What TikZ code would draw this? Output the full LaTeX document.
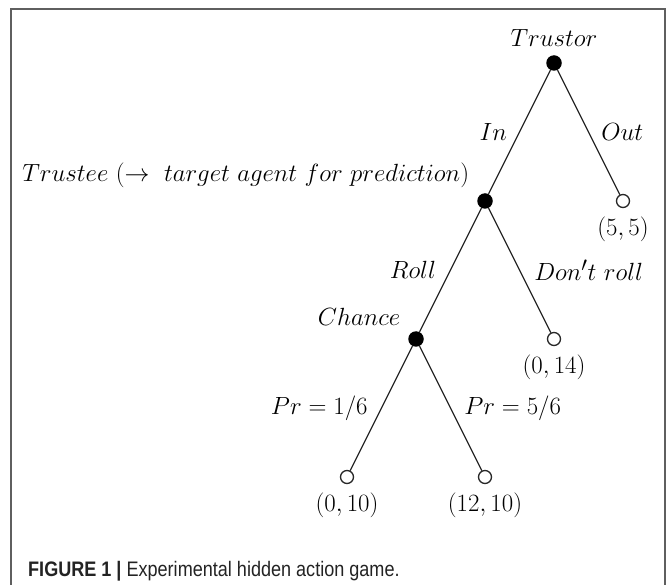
\documentclass[tikz,border=0pt]{standalone}
\usepackage{amsmath,amssymb}
\usepackage{fontspec}
\usepackage{tikz}
\usetikzlibrary{positioning}
\newfontfamily\capfont[FakeStretch=0.86]{Liberation Sans}
\definecolor{edgegray}{RGB}{40,40,40}
\definecolor{framegray}{RGB}{95,95,95}
\definecolor{capgray}{RGB}{35,35,35}

\begin{document}
\begin{tikzpicture}[x=1pt,y=1pt,level distance=138pt,sibling distance=138pt,
      font=\fontsize{24.88}{28}\selectfont,
      decision/.style={circle,fill=black,inner sep=0pt,minimum size=15.5pt},
      outcome/.style={circle,draw=edgegray,fill=white,line width=1.3pt,inner sep=0pt,minimum size=13pt},
      movelbl/.style={inner sep=0pt},
      playerlbl/.style={label distance=8pt},
      payoff/.style={label distance=5pt},
      edge from parent/.style={draw=edgegray,line width=1.3pt}]
  \useasboundingbox (0,0) rectangle (667,-585);
  \draw[framegray,line width=1.5pt] (11,-600) |- (665,-9) -- (665,-600);
  \node[decision,label={[label distance=5pt]above:$Trustor$}] (trustor) at (554,-63) {}
    child {node[decision,label={[playerlbl]140:$Trustee\ (\rightarrow\ target\ agent\ for\ prediction)$}] (trustee) {}
      child {node[decision,label={[playerlbl]140:$Chance$}] (chance) {}
        child {node[outcome,label={[payoff]below:$(0,10)$}] (lowroll) {}
          edge from parent node[movelbl,left=13pt] {$Pr = 1/6$}}
        child {node[outcome,label={[payoff]below:$(12,10)$}] (highroll) {}
          edge from parent node[movelbl,right=13pt] {$Pr = 5/6$}}
        edge from parent node[movelbl,left=14pt] {$Roll$}}
      child {node[outcome,label={[payoff]below:$(0,14)$}] (noroll) {}
        edge from parent node[movelbl,right=14pt] {$Don't\ roll$}}
      edge from parent node[movelbl,left=12pt] {$In$}}
    child {node[outcome,label={[payoff]below:$(5,5)$}] (out) {}
      edge from parent node[movelbl,right=12pt] {$Out$}};
  \node[anchor=west,inner sep=0pt,text=capgray,font=\capfont\fontsize{21}{24}\selectfont] (caption) at (28,-571)
    {\textbf{FIGURE 1 |} Experimental hidden action game.};
\end{tikzpicture}
\end{document}
